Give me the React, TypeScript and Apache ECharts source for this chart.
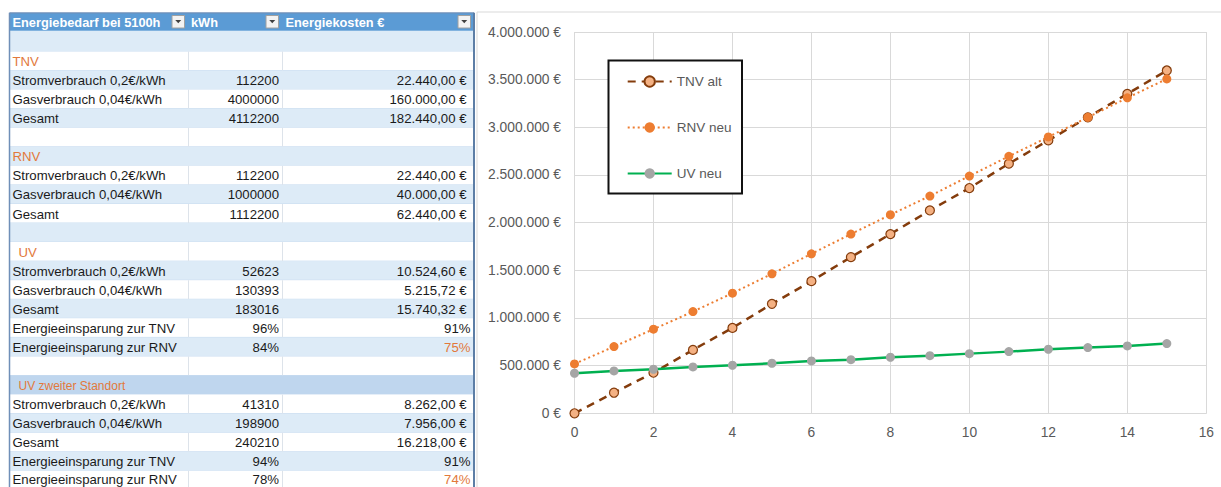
import React, { useEffect, useRef } from "react";
import * as echarts from "echarts";

// ---------- data ----------
const years = [0, 1, 2, 3, 4, 5, 6, 7, 8, 9, 10, 11, 12, 13, 14, 15];
const tnvAlt = [0, 216000, 426000, 665000, 896000, 1148000, 1386000, 1638000, 1880000, 2128000, 2363000, 2619000, 2863000, 3105000, 3351000, 3596000];
const rnvNeu = [518000, 700000, 882000, 1067000, 1260000, 1463000, 1673000, 1880000, 2083000, 2279000, 2489000, 2696000, 2899000, 3105000, 3309000, 3508000];
const uvNeu = [420000, 444000, 462000, 486000, 504000, 525000, 549000, 563000, 588000, 605000, 626000, 647000, 672000, 689000, 707000, 731000];
const seriesNames = ["TNV alt", "RNV neu", "UV neu"];

const tableHeader = ["Energiebedarf bei 5100h", "kWh", "Energiekosten €"];
const rowLabels = [
  "", "TNV", "Stromverbrauch 0,2€/kWh", "Gasverbrauch 0,04€/kWh", "Gesamt",
  "", "RNV", "Stromverbrauch 0,2€/kWh", "Gasverbrauch 0,04€/kWh", "Gesamt",
  "", "UV", "Stromverbrauch 0,2€/kWh", "Gasverbrauch 0,04€/kWh", "Gesamt",
  "Energieeinsparung zur TNV", "Energieeinsparung zur RNV",
  "", "UV zweiter Standort", "Stromverbrauch 0,2€/kWh", "Gasverbrauch 0,04€/kWh", "Gesamt",
  "Energieeinsparung zur TNV", "Energieeinsparung zur RNV",
];
const kwhValues = [
  "", "", "112200", "4000000", "4112200",
  "", "", "112200", "1000000", "1112200",
  "", "", "52623", "130393", "183016", "96%", "84%",
  "", "", "41310", "198900", "240210", "94%", "78%",
];
const costValues = [
  "", "", "22.440,00 €", "160.000,00 €", "182.440,00 €",
  "", "", "22.440,00 €", "40.000,00 €", "62.440,00 €",
  "", "", "10.524,60 €", "5.215,72 €", "15.740,32 €", "91%", "75%",
  "", "", "8.262,00 €", "7.956,00 €", "16.218,00 €", "91%", "74%",
];
const sectionRows = [1, 6, 11, 18];
const orangeCostRows = [16, 23];

// ---------- helpers ----------
const fmtEuro = (v: number) =>
  v === 0 ? "0 €" : String(v).replace(/\B(?=(\d{3})+(?!\d))/g, ".") + " €";

const FONT = "'Liberation Sans', Arial, sans-serif";
const ORANGE = "#e2793b";

function rowTop(i: number) {
  return i === 0 ? 30.7 : 51.5 + (i - 1) * 19.06;
}
function rowH(i: number) {
  return i === 0 ? 20.8 : 19.06;
}

function buildTable(): any[] {
  const els: any[] = [];
  const L = 10, R = 473, c1 = 188.5, c2 = 282.5;
  rowLabels.forEach((lab, i) => {
    const y = rowTop(i), h = rowH(i);
    const blue = i % 2 === 0;
    let fill = blue ? "#ddebf7" : "#ffffff";
    if (i === 18) fill = "#bfd6ee";
    els.push({ type: "rect", shape: { x: L, y, width: R - L, height: h }, style: { fill } });
    els.push({ type: "line", shape: { x1: L, y1: y + h, x2: R, y2: y + h }, style: { stroke: "#c8dcf0", lineWidth: 1 } });
    if (!blue) {
      els.push({ type: "line", shape: { x1: c1, y1: y, x2: c1, y2: y + h }, style: { stroke: "#dde3ea", lineWidth: 1 } });
      els.push({ type: "line", shape: { x1: c2, y1: y, x2: c2, y2: y + h }, style: { stroke: "#dde3ea", lineWidth: 1 } });
    }
    const last = i === rowLabels.length - 1;
    const cy = last ? y + h / 2 - 1 : y + h / 2 + 0.5;
    const isSection = sectionRows.includes(i);
    if (lab) {
      const isStandort = i === 18;
      els.push({
        type: "text",
        style: {
          text: lab,
          x: i === 11 || i === 18 ? 18.5 : 12.5,
          y: cy,
          verticalAlign: "middle",
          align: "left",
          fill: isSection ? ORANGE : "#1a1a1a",
          font: isStandort ? `12px ${FONT}` : `13.2px ${FONT}`,
        },
      });
    }
    if (kwhValues[i]) {
      els.push({
        type: "text",
        style: { text: kwhValues[i], x: 279, y: cy, align: "right", verticalAlign: "middle", fill: "#1a1a1a", font: `13.2px ${FONT}` },
      });
    }
    if (costValues[i]) {
      const pct = costValues[i].endsWith("%");
      els.push({
        type: "text",
        style: {
          text: costValues[i],
          x: pct ? 470.5 : 466.5,
          y: cy,
          align: "right",
          verticalAlign: "middle",
          fill: orangeCostRows.includes(i) ? ORANGE : "#1a1a1a",
          font: `13.2px ${FONT}`,
        },
      });
    }
  });
  // header
  els.push({ type: "rect", shape: { x: L, y: 13, width: R - L, height: 17.7 }, style: { fill: "#5b9bd5" } });
  const hx = [12.5, 191, 285.5];
  tableHeader.forEach((t, k) => {
    els.push({
      type: "text",
      style: { text: t, x: hx[k], y: 22, align: "left", verticalAlign: "middle", fill: "#ffffff", font: `bold 12.8px ${FONT}` },
    });
  });
  [172, 266, 458].forEach((bx) => {
    els.push({ type: "rect", shape: { x: bx, y: 15.5, width: 12.5, height: 12.5 }, style: { fill: "#f3f3f3", stroke: "#a0a0a0", lineWidth: 1 } });
    const cx = bx + 6.25, cyy = 21.5;
    els.push({ type: "polygon", shape: { points: [[cx - 3, cyy - 1.5], [cx + 3, cyy - 1.5], [cx, cyy + 1.8]] }, style: { fill: "#404040" } });
  });
  // borders
  els.push({ type: "line", shape: { x1: 9.5, y1: 12.8, x2: 9.5, y2: 490 }, style: { stroke: "#6f8fb8", lineWidth: 1.5 } });
  els.push({ type: "line", shape: { x1: 9.5, y1: 12.8, x2: 474, y2: 12.8 }, style: { stroke: "#6f8fb8", lineWidth: 1.2 } });
  els.push({ type: "line", shape: { x1: 474, y1: 12.8, x2: 474, y2: 490 }, style: { stroke: "#5d7ea6", lineWidth: 2 } });
  return els;
}

export default function App() {
  const ref = useRef<HTMLDivElement>(null);
  useEffect(() => {
    if (!ref.current) return;
    const chart = echarts.init(ref.current, undefined, { renderer: "svg" });
    const pair = (arr: number[]) => years.map((x, i) => [x, arr[i]]);
    const option: any = {
      animation: false,
      backgroundColor: "#ffffff",
      textStyle: { fontFamily: FONT },
      grid: { left: 574.5, right: 14.7, top: 32, bottom: 73.7, containLabel: false },
      xAxis: {
        type: "value",
        min: 0,
        max: 16,
        interval: 2,
        axisLine: { show: true, lineStyle: { color: "#d9d9d9", width: 1 } },
        axisTick: { show: false },
        splitLine: { show: true, lineStyle: { color: "#d9d9d9", width: 1 } },
        axisLabel: { color: "#595959", fontSize: 13.8, margin: 12, fontFamily: FONT },
      },
      yAxis: {
        type: "value",
        min: 0,
        max: 4000000,
        interval: 500000,
        axisLine: { show: false },
        axisTick: { show: false },
        splitLine: { show: true, lineStyle: { color: "#d9d9d9", width: 1 } },
        axisLabel: { color: "#595959", fontSize: 13.8, margin: 13.5, fontFamily: FONT, formatter: (v: number) => fmtEuro(v) },
      },
      legend: {
        orient: "vertical",
        left: 626.7,
        top: 74.5,
        padding: 0,
        itemWidth: 44,
        itemHeight: 13,
        itemGap: 32,
        textStyle: { color: "#595959", fontSize: 13.5, fontFamily: FONT },
        data: seriesNames,
        z: 10,
      },
      graphic: {
        elements: [
          ...buildTable(),
          { type: "rect", shape: { x: 477, y: 12, width: 760, height: 490 }, style: { fill: "none", stroke: "#d9d9d9", lineWidth: 1 }, z: 1 },
          { type: "rect", shape: { x: 608.5, y: 60.5, width: 133.5, height: 133 }, style: { fill: "#ffffff", stroke: "#111111", lineWidth: 2 }, z: 5 },
        ],
      },
      series: [
        {
          name: seriesNames[0],
          type: "line",
          data: pair(tnvAlt),
          symbol: "circle",
          symbolSize: 9,
          lineStyle: { color: "#843c0c", width: 2.5, type: [8, 6] },
          itemStyle: { color: "#f4b183", borderColor: "#843c0c", borderWidth: 1.2 },
          z: 2,
        },
        {
          name: seriesNames[1],
          type: "line",
          data: pair(rnvNeu),
          symbol: "circle",
          symbolSize: 9,
          lineStyle: { color: "#ed7d31", width: 2, type: [2, 3] },
          itemStyle: { color: "#ed7d31", borderColor: "#ed7d31", borderWidth: 0 },
          z: 3,
        },
        {
          name: seriesNames[2],
          type: "line",
          data: pair(uvNeu),
          symbol: "circle",
          symbolSize: 9,
          lineStyle: { color: "#00b050", width: 2.5 },
          itemStyle: { color: "#a5a5a5", borderWidth: 0 },
          z: 4,
        },
      ],
    };
    chart.setOption(option);
    return () => chart.dispose();
  }, []);
  return (
    <div
      ref={ref}
      style={{ position: "fixed", left: 0, top: 0, width: 1221, height: 487, background: "#fff" }}
    />
  );
}
